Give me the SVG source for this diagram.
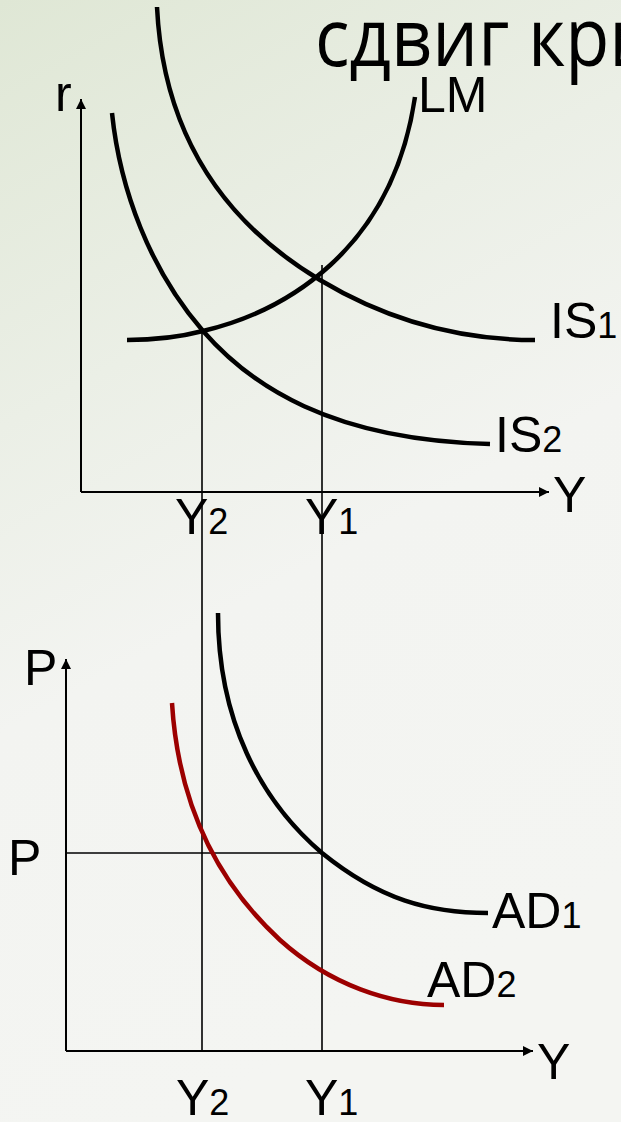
<svg xmlns="http://www.w3.org/2000/svg" width="621" height="1122" viewBox="0 0 621 1122">
<defs>
<linearGradient id="bg" x1="0" y1="0" x2="0.3" y2="1">
<stop offset="0" stop-color="#dfe7d5"/>
<stop offset="0.35" stop-color="#ebefe6"/>
<stop offset="0.6" stop-color="#f3f4f1"/>
<stop offset="1" stop-color="#f4f5f2"/>
</linearGradient>
<marker id="arr" viewBox="0 0 10 10" refX="10" refY="5" markerWidth="5" markerHeight="5" orient="auto" markerUnits="strokeWidth">
<path d="M0,0 L10,5 L0,10 z" fill="#000"/>
</marker>
<style>
.lbl{font-family:"Liberation Sans",Arial,sans-serif;font-size:50px;fill:#000}
.sub{font-size:36px}
.title{font-family:"Open Sans","Noto Sans",sans-serif;font-size:70px;fill:#000}
.axis{stroke:#000;stroke-width:2;fill:none}
.guide{stroke:#000;stroke-width:1.6;fill:none}
.curve{stroke:#000;stroke-width:4.5;fill:none}
.red{stroke:#9c0000;stroke-width:4.5;fill:none}
</style>
</defs>
<rect width="621" height="1122" fill="url(#bg)"/>
<text class="title" transform="translate(315,66) scale(1.03,1.16)">сдвиг кри</text>

<g id="connectors">
<line class="axis" x1="81" y1="492" x2="81" y2="99" marker-end="url(#arr)"/>
<line class="axis" x1="81" y1="492" x2="549" y2="492" marker-end="url(#arr)"/>
<line class="axis" x1="66" y1="1051" x2="66" y2="659" marker-end="url(#arr)"/>
<line class="axis" x1="66" y1="1051" x2="533" y2="1051" marker-end="url(#arr)"/>
<line class="guide" x1="202" y1="331" x2="202" y2="1051"/>
<line class="guide" x1="322" y1="265" x2="322" y2="1051"/>
<line class="guide" x1="66" y1="853" x2="322" y2="853"/>
</g>

<g id="IS1">
<path class="curve" d="M157,7 C163,130 220,220 320,280 C380,316 450,340 535,340"/>
<text class="lbl" x="550" y="338">IS<tspan class="sub">1</tspan></text>
</g>
<g id="IS2">
<path class="curve" d="M112,113 C120,190 150,270 203,331 C250,385 330,440 490,444"/>
<text class="lbl" x="495" y="452">IS<tspan class="sub">2</tspan></text>
</g>
<g id="LM">
<path class="curve" d="M127,340 C155,340 180,337 203,331 C283,312 392,252 415,97"/>
<text class="lbl" x="418" y="112">LM</text>
</g>
<g id="axis-labels-top">
<text class="lbl" x="55" y="111">r</text>
<text class="lbl" x="553" y="512">Y</text>
<text class="lbl" x="175" y="534">Y<tspan class="sub">2</tspan></text>
<text class="lbl" x="305" y="534">Y<tspan class="sub">1</tspan></text>
</g>

<g id="AD1">
<path class="curve" d="M218,613 C218,720 260,800 322,853 C380,900 430,913 488,913"/>
<text class="lbl" x="492" y="928">AD<tspan class="sub">1</tspan></text>
</g>
<g id="AD2">
<path class="red" d="M172,703 C178,800 215,880 280,940 C330,985 390,1005 444,1005"/>
<text class="lbl" x="427" y="997">AD<tspan class="sub">2</tspan></text>
</g>
<g id="axis-labels-bottom">
<text class="lbl" x="24" y="685">P</text>
<text class="lbl" x="8" y="875">P</text>
<text class="lbl" x="537" y="1079">Y</text>
<text class="lbl" x="176" y="1115">Y<tspan class="sub">2</tspan></text>
<text class="lbl" x="305" y="1115">Y<tspan class="sub">1</tspan></text>
</g>
</svg>
